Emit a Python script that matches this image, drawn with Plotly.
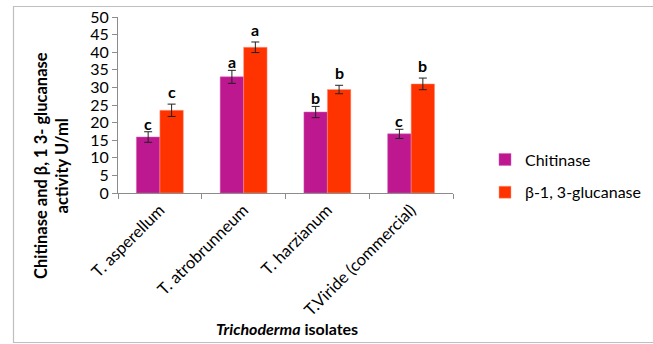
import plotly.graph_objects as go

categories = ["T. asperellum", "T. atrobrunneum", "T. harzianum", "T.Viride (commercial)"]
chitinase = [15.9, 33.0, 23.0, 16.8]
chitinase_err = [1.5, 1.85, 1.6, 1.3]
glucanase = [23.5, 41.4, 29.4, 31.0]
glucanase_err = [1.75, 1.5, 1.2, 1.65]
chitinase_letters = ["c", "a", "b", "c"]
glucanase_letters = ["c", "a", "b", "b"]

W, H = 653, 344
L, R, T, B = 118, 200, 17, 151
pw, ph = W - L - R, H - T - B

def px_to_paper_x(px):
    return (px - L) / pw

def px_to_paper_y(py):
    return (H - B - py) / ph

FONT = "Lato, Carlito, Calibri, sans-serif"

fig = go.Figure()
fig.add_trace(go.Bar(
    name="Chitinase", x=categories, y=chitinase,
    marker=dict(color="#BE1891", line=dict(color="#D060B0", width=0.5)),
    error_y=dict(type="data", array=chitinase_err, color="#222222", thickness=1, width=4),
    legendgroup="a",
))
fig.add_trace(go.Bar(
    name="β-1, 3-glucanase", x=categories, y=glucanase,
    marker=dict(color="#FF3300", line=dict(color="#FF9A80", width=0.5)),
    error_y=dict(type="data", array=glucanase_err, color="#222222", thickness=1, width=4),
    legendgroup="b",
))

bargap = 0.44
half = (1 - bargap) / 4  # offset of each bar center in category units
shift_px = half * pw / len(categories)

annotations = []
for i, c in enumerate(categories):
    annotations.append(dict(x=c, y=chitinase[i] + chitinase_err[i], text="<b>%s</b>" % chitinase_letters[i],
                            showarrow=False, xshift=-shift_px, yanchor="bottom", yshift=-3,
                            font=dict(size=16, color="black", family=FONT), xref="x", yref="y"))
    annotations.append(dict(x=c, y=glucanase[i] + glucanase_err[i], text="<b>%s</b>" % glucanase_letters[i],
                            showarrow=False, xshift=shift_px, yanchor="bottom", yshift=1,
                            font=dict(size=16, color="black", family=FONT), xref="x", yref="y"))

annotations.append(dict(
    x=px_to_paper_x(51), y=px_to_paper_y(166), xref="paper", yref="paper",
    xanchor="center", yanchor="middle",
    text="<b>Chitinase and β, 1 3- glucanase<br>activity U/ml</b>", textangle=-90,
    showarrow=False, font=dict(size=16.5, color="black", family=FONT), align="center",
))
annotations.append(dict(
    x=px_to_paper_x(287), y=px_to_paper_y(328), xref="paper", yref="paper",
    xanchor="center", yanchor="middle",
    text="<b><i>Trichoderma</i> isolates</b>",
    showarrow=False, font=dict(size=16, color="black", family=FONT),
))

shapes = [dict(type="rect", xref="paper", yref="paper",
               x0=px_to_paper_x(13.5), x1=px_to_paper_x(660), y0=px_to_paper_y(342.5), y1=px_to_paper_y(6.5),
               line=dict(color="#BFBFBF", width=1.2), fillcolor="rgba(0,0,0,0)")]

fig.update_layout(
    width=W, height=H,
    margin=dict(l=L, r=R, t=T, b=B, autoexpand=False),
    paper_bgcolor="white", plot_bgcolor="white",
    barmode="group", bargap=bargap, bargroupgap=0,
    font=dict(family=FONT, size=14, color="black"),
    showlegend=True,
    legend=dict(x=px_to_paper_x(485), y=px_to_paper_y(176), xanchor="left", yanchor="middle",
                font=dict(size=16, family=FONT, color="black"), tracegroupgap=9,
                traceorder="grouped", itemwidth=30, bgcolor="rgba(0,0,0,0)"),
    annotations=annotations,
    shapes=shapes,
)
fig.update_yaxes(range=[0, 50], dtick=5, showgrid=False, showline=True, linecolor="#8C8C8C",
                 linewidth=1, ticks="outside", ticklen=5, tickcolor="#8C8C8C",
                 tickfont=dict(size=16, family=FONT), zeroline=False)
fig.update_xaxes(showgrid=False, showline=True, linecolor="#8C8C8C", linewidth=1,
                 ticks="outside", ticklen=5, tickcolor="#8C8C8C", tickson="boundaries",
                 tickangle=-45, tickfont=dict(size=16.5, family=FONT))

fig.write_html("out.html")
